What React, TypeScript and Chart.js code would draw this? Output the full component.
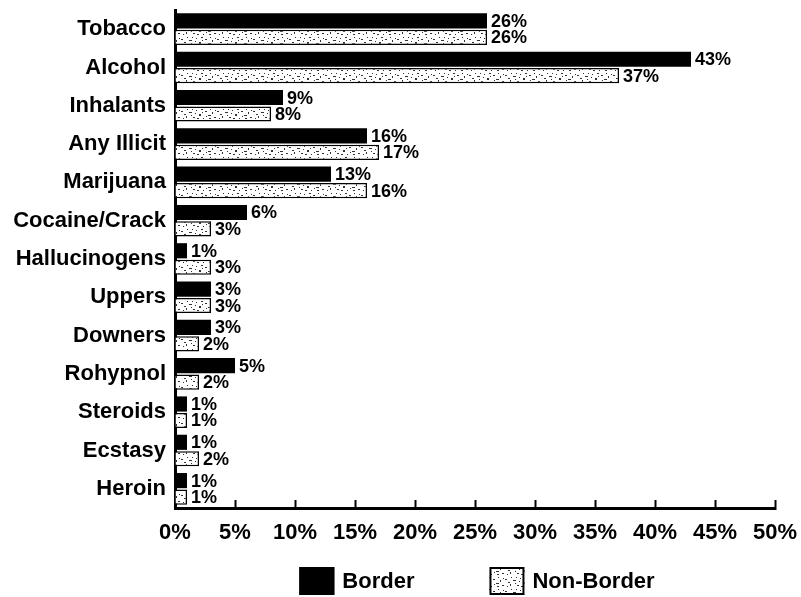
import React, { useEffect, useRef } from "react";
import { Chart, registerables } from "chart.js";

Chart.register(...registerables);

const categories = [
  "Tobacco",
  "Alcohol",
  "Inhalants",
  "Any Illicit",
  "Marijuana",
  "Cocaine/Crack",
  "Hallucinogens",
  "Uppers",
  "Downers",
  "Rohypnol",
  "Steroids",
  "Ecstasy",
  "Heroin",
];
const borderValues = [26, 43, 9, 16, 13, 6, 1, 3, 3, 5, 1, 1, 1];
const nonBorderValues = [26, 37, 8, 17, 16, 3, 3, 3, 2, 2, 1, 2, 1];
const seriesNames = ["Border", "Non-Border"];
const xMin = 0;
const xMax = 50;
const xStep = 5;

const FONT = '"Liberation Sans", Arial, Helvetica, sans-serif';

// speckle texture for the Non-Border bars (styling only)
const specks: number[][] = [
  [1, 3, 2, 1], [6, 8, 1, 2], [9, 4, 3, 1], [13, 9, 2, 1], [16, 2, 1, 1],
  [19, 6, 2, 2], [23, 10, 1, 1], [25, 3, 2, 1], [28, 7, 3, 1], [32, 4, 1, 2],
  [34, 9, 2, 1], [3, 10, 1, 1], [11, 7, 1, 1], [21, 1, 2, 1], [30, 1, 1, 1],
  [15, 5, 1, 1], [26, 8, 1, 1], [7, 1, 1, 1], [4, 6, 2, 1], [17, 10, 2, 1],
  [22, 4, 1, 1], [29, 10, 2, 1], [35, 2, 1, 1], [12, 1, 1, 1],
];

function makeSpeckle(): CanvasPattern | string {
  const c = document.createElement("canvas");
  c.width = 36;
  c.height = 12;
  const g = c.getContext("2d");
  if (!g) return "#eee";
  g.fillStyle = "#fff";
  g.fillRect(0, 0, 36, 12);
  g.fillStyle = "#333";
  specks.forEach(([x, y, w, h]) => g.fillRect(x, y, w, h));
  const p = g.createPattern(c, "repeat");
  return p || "#eee";
}

const valueLabels = {
  id: "valueLabels",
  afterDatasetsDraw(chart: any) {
    const ctx = chart.ctx;
    ctx.save();
    ctx.font = `bold 18px ${FONT}`;
    ctx.fillStyle = "#000";
    ctx.textAlign = "left";
    ctx.textBaseline = "middle";
    chart.data.datasets.forEach((ds: any, di: number) => {
      const meta = chart.getDatasetMeta(di);
      meta.data.forEach((el: any, i: number) => {
        ctx.fillText(ds.data[i] + "%", el.x + 4, el.y + 1);
      });
    });
    ctx.restore();
  },
};

const bottomLegend = {
  id: "bottomLegend",
  afterDraw(chart: any) {
    const { ctx, chartArea } = chart;
    ctx.save();
    ctx.font = `bold 22px ${FONT}`;
    const boxW = 35;
    const boxH = 28;
    const textGap = 8;
    const itemGap = 75;
    const items = chart.data.datasets.map((ds: any) => ({
      label: ds.label as string,
      fill: ds.backgroundColor,
    }));
    const widths = items.map(
      (it: any) => boxW + textGap + ctx.measureText(it.label).width
    );
    const total =
      widths.reduce((a: number, b: number) => a + b, 0) +
      itemGap * (items.length - 1);
    let x = (chartArea.left + chartArea.right) / 2 - total / 2 + 2;
    const top = chart.height - 30;
    items.forEach((it: any, i: number) => {
      ctx.fillStyle = it.fill;
      ctx.fillRect(x, top, boxW, boxH);
      ctx.lineWidth = 2;
      ctx.strokeStyle = "#000";
      ctx.strokeRect(x + 1, top + 1, boxW - 2, boxH - 2);
      ctx.fillStyle = "#000";
      ctx.textAlign = "left";
      ctx.textBaseline = "middle";
      ctx.fillText(it.label, x + boxW + textGap, top + boxH / 2 + 1);
      x += widths[i] + itemGap;
    });
    ctx.restore();
  },
};

export default function App() {
  const ref = useRef<HTMLCanvasElement | null>(null);

  useEffect(() => {
    document.body.style.margin = "0";
    if (!ref.current) return;
    const speckle = makeSpeckle();
    const chart = new Chart(ref.current, {
      type: "bar",
      data: {
        labels: categories,
        datasets: [
          {
            label: seriesNames[0],
            data: borderValues,
            backgroundColor: "#000",
            borderWidth: 0,
            categoryPercentage: 0.86,
            barPercentage: 0.92,
          },
          {
            label: seriesNames[1],
            data: nonBorderValues,
            backgroundColor: speckle as any,
            borderColor: "#000",
            borderWidth: 1.5,
            categoryPercentage: 0.86,
            barPercentage: 0.92,
          },
        ],
      },
      options: {
        indexAxis: "y",
        animation: false,
        responsive: true,
        maintainAspectRatio: false,
        layout: { padding: { top: 10, right: 26, bottom: 44, left: 0 } },
        plugins: {
          legend: { display: false },
          tooltip: { enabled: false },
        },
        scales: {
          x: {
            min: xMin,
            max: xMax,
            ticks: {
              stepSize: xStep,
              color: "#000",
              font: { family: FONT, size: 22, weight: "bold" },
              padding: 20,
              callback: (v: any) => v + "%",
            },
            grid: {
              drawOnChartArea: false,
              drawTicks: true,
              tickLength: -8,
              tickColor: "#000",
              tickWidth: 2,
            },
            border: { display: true, color: "#000", width: 3 },
            afterFit: (s: any) => {
              s.height = 45;
              s.paddingLeft = 0;
              s.paddingRight = 0;
            },
          },
          y: {
            ticks: {
              color: "#000",
              font: { family: FONT, size: 22, weight: "bold" },
              padding: 9,
            },
            grid: { display: false, drawTicks: false },
            border: { display: true, color: "#000", width: 3 },
            afterFit: (s: any) => {
              s.width = 175;
              s.paddingTop = 0;
              s.paddingBottom = 0;
            },
          },
        },
      },
      plugins: [valueLabels, bottomLegend],
    });
    return () => chart.destroy();
  }, []);

  return (
    <div style={{ position: "relative", width: "801px", height: "597px" }}>
      <canvas ref={ref} />
    </div>
  );
}
